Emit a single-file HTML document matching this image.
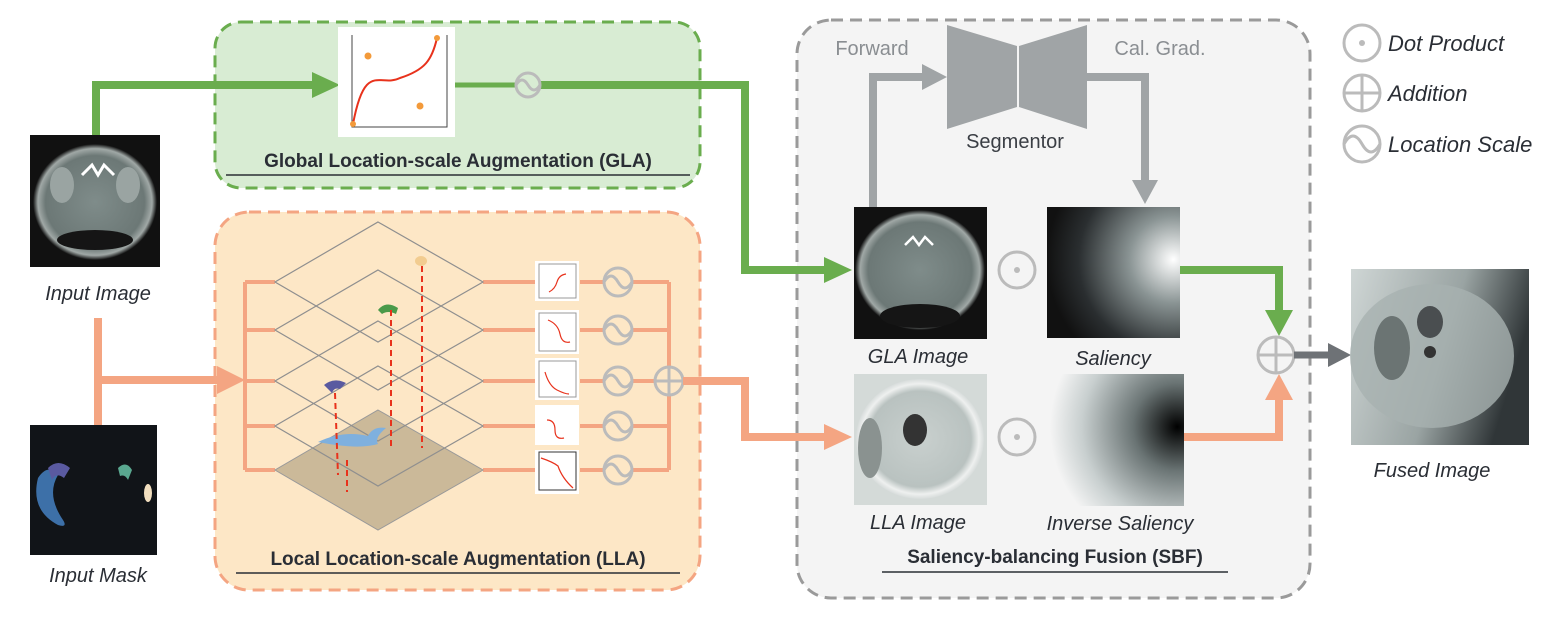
<!DOCTYPE html>
<html><head><meta charset="utf-8"><style>
html,body{margin:0;padding:0;background:#fff}
svg{display:block}
text{font-family:"Liberation Sans",sans-serif}
</style></head><body>
<svg width="1554" height="624" viewBox="0 0 1554 624" xmlns="http://www.w3.org/2000/svg">
<defs>
<radialGradient id="ct" cx="0.5" cy="0.5" r="0.5"><stop offset="0" stop-color="#7f8c8a"/><stop offset="0.8" stop-color="#6c7876"/><stop offset="0.92" stop-color="#a0a8a6"/><stop offset="1" stop-color="#111"/></radialGradient>
<radialGradient id="ctl" cx="0.5" cy="0.5" r="0.5"><stop offset="0" stop-color="#c9d0ce"/><stop offset="0.8" stop-color="#b9c2c0"/><stop offset="0.92" stop-color="#eef0ef"/><stop offset="1" stop-color="#d7dcdb"/></radialGradient>
<radialGradient id="sal" cx="0.95" cy="0.4" r="0.95"><stop offset="0" stop-color="#fff"/><stop offset="0.35" stop-color="#8a9494"/><stop offset="0.75" stop-color="#2a2e30"/><stop offset="1" stop-color="#111"/></radialGradient>
<radialGradient id="isal" cx="0.95" cy="0.4" r="0.95"><stop offset="0" stop-color="#000"/><stop offset="0.35" stop-color="#6a7474"/><stop offset="0.75" stop-color="#c8cfcf"/><stop offset="1" stop-color="#f4f4f4"/></radialGradient>
<linearGradient id="fz" x1="0" y1="0" x2="1" y2="0.3"><stop offset="0" stop-color="#cfd6d5"/><stop offset="0.6" stop-color="#9aa4a3"/><stop offset="1" stop-color="#303638"/></linearGradient>
</defs>

<rect x="215" y="22" width="485" height="166" rx="26" fill="#d8ecd3" stroke="#6aad4e" stroke-width="3" stroke-dasharray="12,7"/>
<rect x="215" y="212" width="485" height="378" rx="34" fill="#fde7c6" stroke="#f4a582" stroke-width="3" stroke-dasharray="12,7"/>
<rect x="797" y="20" width="513" height="578" rx="34" fill="#f4f4f4" stroke="#9a9a9a" stroke-width="3" stroke-dasharray="12,7"/>

<polyline points="96,135 96,85 315,85" fill="none" stroke="#6aad4e" stroke-width="8"/>
<polygon points="312,72 340,85 312,98" fill="#6aad4e"/>
<line x1="455" y1="85" x2="516" y2="85" stroke="#6aad4e" stroke-width="5"/>
<polyline points="540,85 745,85 745,270 826,270" fill="none" stroke="#6aad4e" stroke-width="8"/>
<polygon points="824,257 852,270 824,283" fill="#6aad4e"/>
<rect x="338" y="27" width="117" height="110" fill="#fff"/>
<path d="M352,35 V127 H447 V35" fill="none" stroke="#444" stroke-width="1"/>
<path d="M353,124 C365,60 380,88 400,78 C425,70 432,60 437,38" fill="none" stroke="#e8321c" stroke-width="2"/>
<circle cx="353" cy="124" r="3" fill="#f39a3a"/><circle cx="437" cy="38" r="3" fill="#f39a3a"/>
<circle cx="368" cy="56" r="3.5" fill="#f39a3a"/><circle cx="420" cy="106" r="3.5" fill="#f39a3a"/>
<circle cx="528" cy="85" r="12" fill="none" stroke="#bbb" stroke-width="3"/>
<path d="M516,85 q6,-10 12,0 t12,0" fill="none" stroke="#bbb" stroke-width="3"/>
<text x="458" y="167" font-size="19" font-weight="bold" fill="#2a2e35" text-anchor="middle">Global Location-scale Augmentation (GLA)</text>
<line x1="226" y1="175" x2="690" y2="175" stroke="#2a2e35" stroke-width="1.5"/>

<rect x="30" y="135" width="130" height="132" fill="#111"/>
<ellipse cx="95" cy="202" rx="62" ry="58" fill="url(#ct)"/>
<ellipse cx="62" cy="185" rx="12" ry="18" fill="#9aa4a2"/><ellipse cx="128" cy="185" rx="12" ry="18" fill="#9aa4a2"/>
<path d="M82,175 l10,-10 l6,10 l6,-10 l10,10" stroke="#fff" stroke-width="3" fill="none"/>
<ellipse cx="95" cy="240" rx="38" ry="10" fill="#151515"/>
<text x="98" y="300" font-size="20" font-style="italic" fill="#2a2e35" text-anchor="middle">Input Image</text>

<polyline points="98,318 98,425" fill="none" stroke="#f4a582" stroke-width="8"/>
<polyline points="98,380 220,380" fill="none" stroke="#f4a582" stroke-width="8"/>
<polygon points="217,366 245,380 217,394" fill="#f4a582"/>
<rect x="30" y="425" width="127" height="130" fill="#111418"/>
<path d="M38,478 q10,-15 20,-3 q-12,20 5,45 q5,8 -5,5 q-28,-15 -20,-47z" fill="#3d70a8"/>
<path d="M48,468 q10,-10 22,0 l-6,10 q-8,-6 -12,2z" fill="#5a5aa0"/>
<path d="M118,468 q8,-8 14,2 l-4,10 q-3,-6 -8,-4z" fill="#5aa890"/>
<ellipse cx="148" cy="493" rx="4" ry="9" fill="#f2dfbf"/>
<text x="98" y="582" font-size="20" font-style="italic" fill="#2a2e35" text-anchor="middle">Input Mask</text>

<g stroke="#f4a582" stroke-width="4" fill="none">
<line x1="245" y1="282" x2="245" y2="470"/>
<line x1="245" y1="282" x2="275" y2="282"/><line x1="245" y1="330" x2="275" y2="330"/>
<line x1="245" y1="381" x2="275" y2="381"/><line x1="245" y1="426" x2="275" y2="426"/>
<line x1="245" y1="470" x2="275" y2="470"/>
<line x1="483" y1="282" x2="535" y2="282"/><line x1="483" y1="330" x2="535" y2="330"/>
<line x1="483" y1="381" x2="535" y2="381"/><line x1="483" y1="426" x2="535" y2="426"/>
<line x1="483" y1="470" x2="535" y2="470"/>
<line x1="580" y1="282" x2="669" y2="282"/><line x1="580" y1="330" x2="669" y2="330"/>
<line x1="580" y1="381" x2="655" y2="381"/><line x1="580" y1="426" x2="669" y2="426"/>
<line x1="580" y1="470" x2="669" y2="470"/>
<line x1="669" y1="282" x2="669" y2="367"/><line x1="669" y1="395" x2="669" y2="470"/>
</g>
<polygon points="378,410 483,470 378,530 275,470" fill="#cbb999" stroke="#999" stroke-width="1"/>
<g fill="none" stroke="#8f8f8f" stroke-width="1.2">
<polygon points="378,222 483,282 378,342 275,282"/>
<polygon points="378,270 483,330 378,390 275,330"/>
<polygon points="378,321 483,381 378,441 275,381"/>
<polygon points="378,366 483,426 378,486 275,426"/>
</g>
<path d="M318,442 q25,-12 50,-6 q5,-10 18,-8 q-12,10 -8,16 q-20,6 -60,-2z" fill="#7fb0de"/>
<path d="M324,385 q10,-8 22,-2 l-6,6 q-6,-2 -8,4z" fill="#5a5aa0"/>
<path d="M378,310 q8,-10 20,-2 l-2,6 q-8,-4 -14,0z" fill="#4a9a4a"/>
<ellipse cx="421" cy="261" rx="6" ry="5" fill="#f2cc90"/>
<g stroke="#e8321c" stroke-width="2" stroke-dasharray="6,4" fill="none">
<line x1="422" y1="266" x2="422" y2="448"/><line x1="391" y1="310" x2="391" y2="448"/>
<line x1="335" y1="393" x2="338" y2="475"/><line x1="347" y1="460" x2="347" y2="492"/>
</g>
<g>
<rect x="535" y="261" width="44" height="40" fill="#fff"/><rect x="539" y="264" width="37" height="34" fill="none" stroke="#999"/>
<rect x="535" y="310" width="44" height="44" fill="#fff"/><rect x="539" y="313" width="37" height="38" fill="none" stroke="#999"/>
<rect x="535" y="358" width="44" height="42" fill="#fff"/><rect x="539" y="361" width="37" height="36" fill="none" stroke="#999"/>
<rect x="535" y="405" width="44" height="40" fill="#fff"/>
<rect x="535" y="450" width="44" height="44" fill="#fff"/><rect x="539" y="452" width="37" height="38" fill="none" stroke="#333"/>
</g>
<g stroke="#e8321c" stroke-width="1.2" fill="none">
<path d="M549,292 q6,-3 8,-10 t9,-8"/><path d="M548,320 q10,4 12,14 t10,8"/>
<path d="M545,372 q4,14 12,18 t12,4"/><path d="M547,420 q8,0 8,10 t9,8"/>
<path d="M541,458 q12,4 17,8 q4,12 15,22"/>
</g>
<g stroke="#bbb" stroke-width="3" fill="none">
<circle cx="618" cy="282" r="14" fill="#fde7c6"/><path d="M604,282 q7,-12 14,0 t14,0"/>
<circle cx="618" cy="330" r="14" fill="#fde7c6"/><path d="M604,330 q7,-12 14,0 t14,0"/>
<circle cx="618" cy="381" r="14" fill="#fde7c6"/><path d="M604,381 q7,-12 14,0 t14,0"/>
<circle cx="618" cy="426" r="14" fill="#fde7c6"/><path d="M604,426 q7,-12 14,0 t14,0"/>
<circle cx="618" cy="470" r="14" fill="#fde7c6"/><path d="M604,470 q7,-12 14,0 t14,0"/>
<circle cx="669" cy="381" r="14"/><line x1="655" y1="381" x2="683" y2="381"/><line x1="669" y1="367" x2="669" y2="395"/>
</g>
<polyline points="683,381 745,381 745,437 826,437" fill="none" stroke="#f4a582" stroke-width="8"/>
<polygon points="824,424 852,437 824,450" fill="#f4a582"/>
<text x="458" y="565" font-size="19" font-weight="bold" fill="#2a2e35" text-anchor="middle">Local Location-scale Augmentation (LLA)</text>
<line x1="236" y1="573" x2="680" y2="573" stroke="#2a2e35" stroke-width="1.5"/>

<!-- Segmentor -->
<polygon points="947,25 1017,46 1017,107 947,129" fill="#a0a4a6"/>
<polygon points="1087,25 1019,46 1019,107 1087,129" fill="#a0a4a6"/>
<text x="872" y="55" font-size="20" fill="#8a8e92" text-anchor="middle">Forward</text>
<text x="1160" y="55" font-size="20" fill="#8a8e92" text-anchor="middle">Cal. Grad.</text>
<text x="1015" y="148" font-size="20" fill="#3a3e44" text-anchor="middle">Segmentor</text>
<polyline points="873,207 873,77 925,77" fill="none" stroke="#a0a4a6" stroke-width="8"/>
<polygon points="922,64 947,77 922,90" fill="#a0a4a6"/>
<polyline points="1087,77 1145,77 1145,182" fill="none" stroke="#a0a4a6" stroke-width="8"/>
<polygon points="1132,180 1145,204 1158,180" fill="#a0a4a6"/>

<rect x="854" y="207" width="133" height="132" fill="#111"/>
<ellipse cx="920" cy="270" rx="65" ry="60" fill="url(#ct)"/>
<ellipse cx="920" cy="316" rx="40" ry="12" fill="#151515"/>
<path d="M905,245 l8,-8 l6,8 l6,-8 l8,8" stroke="#fff" stroke-width="2.5" fill="none"/>
<rect x="1047" y="207" width="133" height="131" fill="url(#sal)"/>
<rect x="854" y="374" width="133" height="131" fill="#d4dad8"/>
<ellipse cx="920" cy="439" rx="64" ry="60" fill="url(#ctl)"/>
<ellipse cx="915" cy="430" rx="12" ry="16" fill="#333"/>
<ellipse cx="870" cy="448" rx="12" ry="30" fill="#8a9290"/>
<rect x="1050" y="374" width="134" height="132" fill="url(#isal)"/>
<g stroke="#bbb" stroke-width="3" fill="none">
<circle cx="1017" cy="270" r="18"/><circle cx="1017" cy="437" r="18"/>
</g>
<circle cx="1017" cy="270" r="3" fill="#bbb"/><circle cx="1017" cy="437" r="3" fill="#bbb"/>
<g font-size="20" font-style="italic" fill="#2a2e35" text-anchor="middle">
<text x="918" y="363">GLA Image</text><text x="1113" y="365">Saliency</text>
<text x="918" y="529">LLA Image</text><text x="1120" y="530">Inverse Saliency</text>
<text x="1432" y="477">Fused Image</text>
</g>
<text x="1055" y="563" font-size="19" font-weight="bold" fill="#2a2e35" text-anchor="middle">Saliency-balancing Fusion (SBF)</text>
<line x1="882" y1="572" x2="1228" y2="572" stroke="#2a2e35" stroke-width="1.5"/>

<polyline points="1180,270 1279,270 1279,312" fill="none" stroke="#6aad4e" stroke-width="8"/>
<polygon points="1265,310 1279,336 1293,310" fill="#6aad4e"/>
<polyline points="1184,437 1279,437 1279,398" fill="none" stroke="#f4a582" stroke-width="8"/>
<polygon points="1265,400 1279,374 1293,400" fill="#f4a582"/>
<g stroke="#bbb" stroke-width="3" fill="none">
<circle cx="1276" cy="355" r="18"/><line x1="1258" y1="355" x2="1294" y2="355"/><line x1="1276" y1="337" x2="1276" y2="373"/>
</g>
<line x1="1294" y1="355" x2="1330" y2="355" stroke="#6e7276" stroke-width="7"/>
<polygon points="1328,343 1351,355 1328,367" fill="#6e7276"/>

<rect x="1351" y="269" width="178" height="176" fill="url(#fz)"/>
<ellipse cx="1432" cy="356" rx="82" ry="72" fill="#a8b1b0" opacity="0.8"/>
<ellipse cx="1392" cy="348" rx="18" ry="32" fill="#6b7473"/>
<ellipse cx="1430" cy="322" rx="13" ry="16" fill="#4a4e50"/>
<circle cx="1430" cy="352" r="6" fill="#333"/>

<g stroke="#bbb" stroke-width="3" fill="none">
<circle cx="1362" cy="43" r="18"/><circle cx="1362" cy="93" r="18"/><line x1="1344" y1="93" x2="1380" y2="93"/><line x1="1362" y1="75" x2="1362" y2="111"/>
<circle cx="1362" cy="144" r="18"/><path d="M1344,144 q9,-16 18,0 t18,0"/>
</g>
<circle cx="1362" cy="43" r="3" fill="#bbb"/>
<g font-size="22" font-style="italic" fill="#2a2e35">
<text x="1388" y="51">Dot Product</text><text x="1388" y="101">Addition</text><text x="1388" y="152">Location Scale</text>
</g>
</svg>
</body></html>
